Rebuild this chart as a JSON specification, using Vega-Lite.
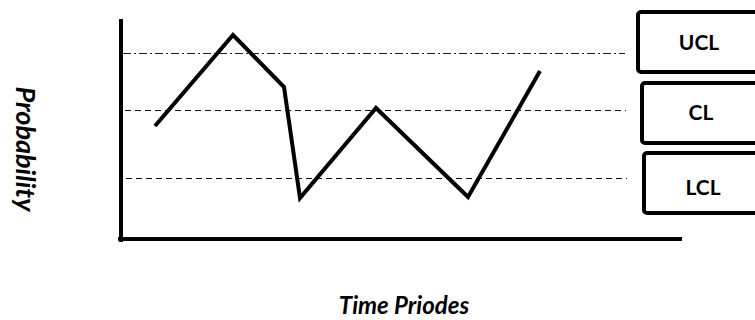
{
  "$schema": "https://vega.github.io/schema/vega-lite/v6.json",
  "width": 755,
  "height": 320,
  "padding": 0,
  "autosize": {"type": "none"},
  "background": "white",
  "config": {"view": {"stroke": null}},
  "datasets": {
    "series": [
      {"t": 155, "p": 194},
      {"t": 233, "p": 285},
      {"t": 284, "p": 233},
      {"t": 300, "p": 122},
      {"t": 376, "p": 212},
      {"t": 468, "p": 123},
      {"t": 540, "p": 249}
    ],
    "limits": [
      {"name": "UCL", "p": 266.5, "start": 123, "end": 625},
      {"name": "CL", "p": 209.5, "start": 125, "end": 626},
      {"name": "LCL", "p": 141.5, "start": 126, "end": 627}
    ],
    "boxes": [
      {"label": "UCL", "x1": 638, "x2": 762, "y1": 308, "y2": 248, "tx": 699, "ty": 276},
      {"label": "CL", "x1": 642, "x2": 762, "y1": 237, "y2": 177, "tx": 701, "ty": 206},
      {"label": "LCL", "x1": 644, "x2": 762, "y1": 167, "y2": 107, "tx": 703, "ty": 131}
    ],
    "axes": [
      {"a": "v", "x1": 121, "x2": 121, "y1": 299, "y2": 80},
      {"a": "h", "x1": 120, "x2": 680, "y1": 81, "y2": 81}
    ],
    "titles": [
      {"label": "Probability", "x": 24, "y": 171, "angle": 90, "size": 27},
      {"label": "Time Priodes", "x": 404, "y": 13, "angle": 0, "size": 24}
    ]
  },
  "layer": [
    {
      "data": {"name": "limits"},
      "transform": [{"filter": "datum.name == 'UCL'"}],
      "mark": {"type": "rule", "strokeWidth": 1, "color": "#222", "strokeDash": [8, 3, 2, 3]},
      "encoding": {
        "x": {"field": "start", "type": "quantitative", "scale": {"domain": [0, 755], "nice": false, "zero": false}, "axis": null},
        "x2": {"field": "end"},
        "y": {"field": "p", "type": "quantitative", "scale": {"domain": [0, 320], "nice": false, "zero": false}, "axis": null}
      }
    },
    {
      "data": {"name": "limits"},
      "transform": [{"filter": "datum.name != 'UCL'"}],
      "mark": {"type": "rule", "strokeWidth": 1, "color": "#111", "strokeDash": [6, 4]},
      "encoding": {
        "x": {"field": "start", "type": "quantitative", "axis": null},
        "x2": {"field": "end"},
        "y": {"field": "p", "type": "quantitative", "axis": null}
      }
    },
    {
      "data": {"name": "axes"},
      "mark": {"type": "rule", "strokeWidth": 4, "color": "black", "strokeCap": "square"},
      "encoding": {
        "x": {"field": "x1", "type": "quantitative", "axis": null},
        "x2": {"field": "x2"},
        "y": {"field": "y1", "type": "quantitative", "axis": null},
        "y2": {"field": "y2"}
      }
    },
    {
      "data": {"name": "series"},
      "mark": {"type": "line", "strokeWidth": 4, "color": "black", "strokeJoin": "miter", "strokeCap": "butt"},
      "encoding": {
        "x": {"field": "t", "type": "quantitative", "axis": null},
        "y": {"field": "p", "type": "quantitative", "axis": null}
      }
    },
    {
      "data": {"name": "boxes"},
      "mark": {"type": "rect", "fill": "white", "stroke": "black", "strokeWidth": 4, "cornerRadius": 3},
      "encoding": {
        "x": {"field": "x1", "type": "quantitative", "axis": null},
        "x2": {"field": "x2"},
        "y": {"field": "y1", "type": "quantitative", "axis": null},
        "y2": {"field": "y2"}
      }
    },
    {
      "data": {"name": "boxes"},
      "mark": {"type": "text", "font": "Lato", "fontWeight": "bold", "fontSize": 21, "color": "black", "align": "center", "baseline": "middle"},
      "encoding": {
        "x": {"field": "tx", "type": "quantitative", "axis": null},
        "y": {"field": "ty", "type": "quantitative", "axis": null},
        "text": {"field": "label"}
      }
    },
    {
      "data": {"name": "titles"},
      "mark": {"type": "text", "font": "Lato", "fontWeight": "bold", "fontStyle": "italic", "color": "black", "align": "center", "baseline": "middle"},
      "encoding": {
        "x": {"field": "x", "type": "quantitative", "axis": null},
        "y": {"field": "y", "type": "quantitative", "axis": null},
        "angle": {"field": "angle", "type": "quantitative", "scale": null},
        "size": {"field": "size", "type": "quantitative", "scale": null},
        "text": {"field": "label"}
      }
    }
  ]
}
